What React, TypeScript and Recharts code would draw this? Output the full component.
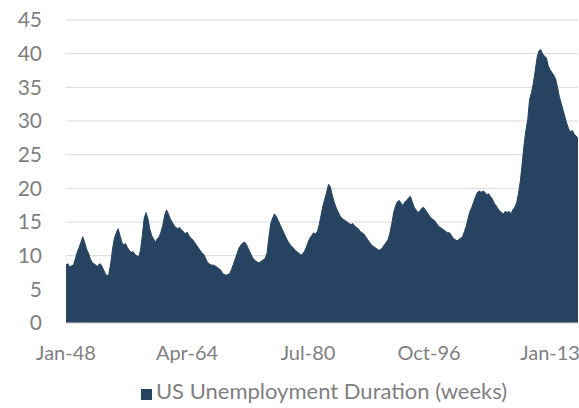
import React from 'react';
import { AreaChart, Area, XAxis, YAxis, CartesianGrid, Legend } from 'recharts';

const firstYear = 1948;
const lastYear = 2016;
const quarterMonths = ['Jan', 'Apr', 'Jul', 'Oct'];
const yTicks = [0, 5, 10, 15, 20, 25, 30, 35, 40, 45];
const seriesName = 'US Unemployment Duration (weeks)';

// Quarterly mean duration (weeks), 1948 Q1 .. 2016 Q4
const durationWeeks = [
  8.6, 8.8, 8.3, 8.5, // 1948
  8.6, 9.5, 10.5, 11.2, // 1949
  12.0, 12.8, 12.0, 11.0, // 1950
  10.4, 9.6, 9.0, 8.8, // 1951
  8.6, 8.4, 8.8, 8.6, // 1952
  8.0, 7.4, 7.0, 7.2, // 1953
  8.8, 11.0, 12.6, 13.4, // 1954
  14.0, 13.0, 12.0, 11.6, // 1955
  11.8, 11.2, 10.8, 10.5, // 1956
  10.6, 10.2, 10.0, 9.8, // 1957
  10.8, 13.0, 15.6, 16.4, // 1958
  15.5, 14.0, 13.0, 12.5, // 1959
  12.0, 12.5, 12.8, 13.5, // 1960
  14.5, 16.0, 16.8, 16.2, // 1961
  15.5, 15.0, 14.5, 14.2, // 1962
  14.0, 14.2, 13.8, 13.6, // 1963
  13.2, 13.5, 13.0, 12.6, // 1964
  12.4, 12.0, 11.6, 11.2, // 1965
  10.8, 10.4, 10.2, 9.6, // 1966
  9.0, 8.8, 8.6, 8.6, // 1967
  8.5, 8.3, 8.1, 7.9, // 1968
  7.4, 7.2, 7.1, 7.2, // 1969
  7.4, 8.0, 8.8, 9.6, // 1970
  10.4, 11.2, 11.6, 11.9, // 1971
  12.0, 11.6, 11.0, 10.4, // 1972
  9.8, 9.4, 9.2, 9.0, // 1973
  9.0, 9.2, 9.4, 9.6, // 1974
  10.4, 12.8, 14.8, 15.6, // 1975
  16.2, 15.8, 15.2, 14.6, // 1976
  14.0, 13.4, 12.8, 12.2, // 1977
  11.8, 11.4, 11.2, 10.8, // 1978
  10.6, 10.4, 10.1, 10.2, // 1979
  10.6, 11.2, 12.0, 12.6, // 1980
  13.0, 13.4, 13.2, 13.6, // 1981
  14.6, 16.0, 17.4, 18.4, // 1982
  19.4, 20.6, 20.2, 19.0, // 1983
  18.0, 17.2, 16.6, 16.0, // 1984
  15.6, 15.4, 15.2, 15.0, // 1985
  14.8, 14.6, 14.8, 14.4, // 1986
  14.2, 14.0, 13.6, 13.4, // 1987
  13.2, 12.8, 12.4, 12.0, // 1988
  11.6, 11.4, 11.2, 11.0, // 1989
  10.8, 10.9, 11.2, 11.6, // 1990
  12.0, 12.4, 13.4, 14.8, // 1991
  16.4, 17.4, 18.0, 18.2, // 1992
  17.8, 17.4, 18.0, 18.2, // 1993
  18.6, 18.8, 18.0, 17.2, // 1994
  16.8, 16.4, 16.6, 17.0, // 1995
  17.2, 16.8, 16.4, 16.0, // 1996
  15.6, 15.4, 15.2, 14.8, // 1997
  14.4, 14.2, 14.0, 13.8, // 1998
  13.6, 13.4, 13.4, 13.0, // 1999
  12.6, 12.4, 12.2, 12.4, // 2000
  12.6, 12.8, 13.6, 14.4, // 2001
  15.6, 16.6, 17.2, 18.0, // 2002
  18.8, 19.4, 19.6, 19.4, // 2003
  19.6, 19.4, 19.0, 19.2, // 2004
  18.8, 18.4, 17.8, 17.4, // 2005
  17.0, 16.6, 16.4, 16.2, // 2006
  16.6, 16.4, 16.6, 16.2, // 2007
  16.8, 17.2, 17.8, 19.2, // 2008
  21.0, 23.6, 26.4, 28.6, // 2009
  30.2, 33.2, 34.2, 35.6, // 2010
  37.4, 39.4, 40.4, 40.6, // 2011
  40.0, 39.6, 39.4, 38.2, // 2012
  37.6, 37.2, 36.8, 36.2, // 2013
  35.0, 33.6, 32.6, 31.6, // 2014
  30.6, 29.6, 28.8, 28.4, // 2015
  28.6, 28.0, 27.8, 27.4, // 2016
];

const periods: string[] = [];
for (let y = firstYear; y <= lastYear; y++) {
  for (const m of quarterMonths) periods.push(`${m}-${String(y).slice(2)}`);
}

const data = periods.map((p, i) => ({ period: p, value: durationWeeks[i] }));

const TEXT = '#7f7f7f';
const FILL = '#264462';

export default function App() {
  return (
    <div style={{ position: 'absolute', left: 0, top: 0, width: 579, height: 408, background: '#fff', fontFamily: 'Lato, sans-serif' }}>
      <AreaChart width={579} height={408} data={data} margin={{ top: 20, right: 1, bottom: 0, left: 0 }}>
        <CartesianGrid vertical={false} stroke="#d9d9d9" strokeWidth={1} />
        <XAxis
          dataKey="period"
          interval={64}
          tickLine={false}
          tickSize={0}
          tickMargin={23}
          height={85}
          axisLine={{ stroke: '#d9d9d9' }}
          tick={{ fill: TEXT, fontSize: 20 }}
        />
        <YAxis
          domain={[0, 45]}
          ticks={yTicks}
          width={66}
          axisLine={false}
          tickLine={false}
          tickSize={0}
          tickMargin={24}
          tick={{ fill: TEXT, fontSize: 21 }}
        />
        <Legend
          layout="horizontal"
          verticalAlign="middle"
          align="center"
          iconType="square"
          iconSize={11}
          wrapperStyle={{ left: 79, width: 500, top: 377 }}
          formatter={(v) => <span style={{ color: TEXT, fontSize: 22 }}>{v}</span>}
        />
        <Area
          type="linear"
          dataKey="value"
          name={seriesName}
          stroke={FILL}
          fill={FILL}
          fillOpacity={1}
          strokeWidth={1}
          isAnimationActive={false}
          dot={false}
          activeDot={false}
        />
      </AreaChart>
    </div>
  );
}
